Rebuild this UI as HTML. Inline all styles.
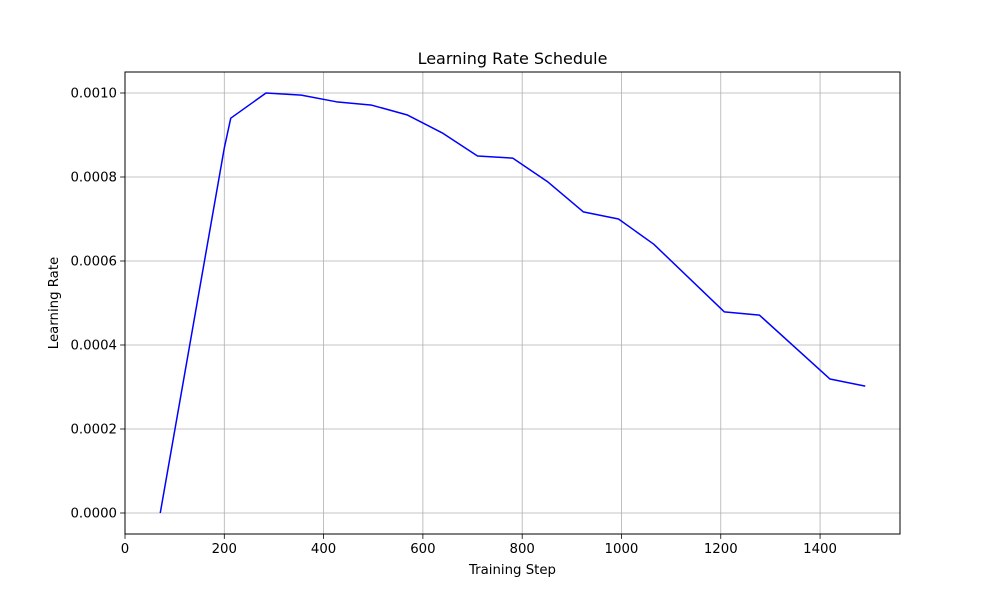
<!DOCTYPE html>
<html><head><meta charset="utf-8"><style>
body{margin:0;background:#fff;}
svg{display:block;font-family:"DejaVu Sans","Liberation Sans",sans-serif;}
</style></head><body>
<svg id="chart" width="1000" height="600">
<rect x="0" y="0" width="1000" height="600" fill="#fff"/>
<g id="grid"></g>
<g id="ticks"></g>
<g id="series"></g>
<rect x="125" y="72" width="775" height="462" fill="none" stroke="#000" stroke-width="1"/>
<text x="512.5" y="64" text-anchor="middle" font-size="16">Learning Rate Schedule</text>
<text x="512.5" y="574" text-anchor="middle" font-size="13.3">Training Step</text>
<text transform="translate(58,303) rotate(-90)" text-anchor="middle" font-size="13.3">Learning Rate</text>
</svg>
<script>
const steps=[71,200,213,284,355,426,497,568,639,710,781,852,923,994,1065,1207,1278,1420,1491];
const rates=[0,0.000869,0.000940,0.001,0.000995,0.000979,0.000971,0.000948,0.000905,0.00085,0.000845,0.000788,0.000717,0.0007,0.00064,0.000479,0.000471,0.000319,0.000302];
const xTicks=[0,200,400,600,800,1000,1200,1400];
const yTicks=[0,0.0002,0.0004,0.0006,0.0008,0.001];
const yTickLabels=["0.0000","0.0002","0.0004","0.0006","0.0008","0.0010"];
const NS="http://www.w3.org/2000/svg";
const X0=125,X1=900,Y0=534,Y1=72,xmin=0,xmax=1561,ymin=-0.00005,ymax=0.00105;
function xs(v){return X0+(v-xmin)/(xmax-xmin)*(X1-X0);}
function ys(v){return Y0-(v-ymin)/(ymax-ymin)*(Y0-Y1);}
function mk(t,a,p){const e=document.createElementNS(NS,t);for(const k in a)e.setAttribute(k,a[k]);p.appendChild(e);return e;}
const grid=document.getElementById('grid'),ticks=document.getElementById('ticks'),series=document.getElementById('series');
xTicks.forEach(v=>{const x=xs(v);
 const g=mk('line',{x1:x,x2:x,y1:Y1,y2:Y0,stroke:'#b0b0b0','stroke-width':0.8},grid);
 
 
 const t=mk('line',{x1:x,x2:x,y1:Y0,y2:Y0+4.9,stroke:'#000','stroke-width':0.8},ticks);
 
 
 const l=mk('text',{x:x,y:Y0+19,'text-anchor':'middle','font-size':13.3},ticks);l.textContent=v;
 
 
});
yTicks.forEach((v,i)=>{const y=ys(v);
 const g=mk('line',{x1:X0,x2:X1,y1:y,y2:y,stroke:'#b0b0b0','stroke-width':0.8},grid);
 
 
 const t=mk('line',{x1:X0-4.9,x2:X0,y1:y,y2:y,stroke:'#000','stroke-width':0.8},ticks);
 
 
 const l=mk('text',{x:X0-8,y:y+4.5,'text-anchor':'end','font-size':13.3},ticks);l.textContent=yTickLabels[i];
 
 
});
const pts=steps.map((s,i)=>xs(s).toFixed(2)+','+ys(rates[i]).toFixed(2)).join(' ');
const pl=mk('polyline',{points:pts,fill:'none',stroke:'#0000ff','stroke-width':1.5,'stroke-linejoin':'round'},series);


</script>
</body></html>
